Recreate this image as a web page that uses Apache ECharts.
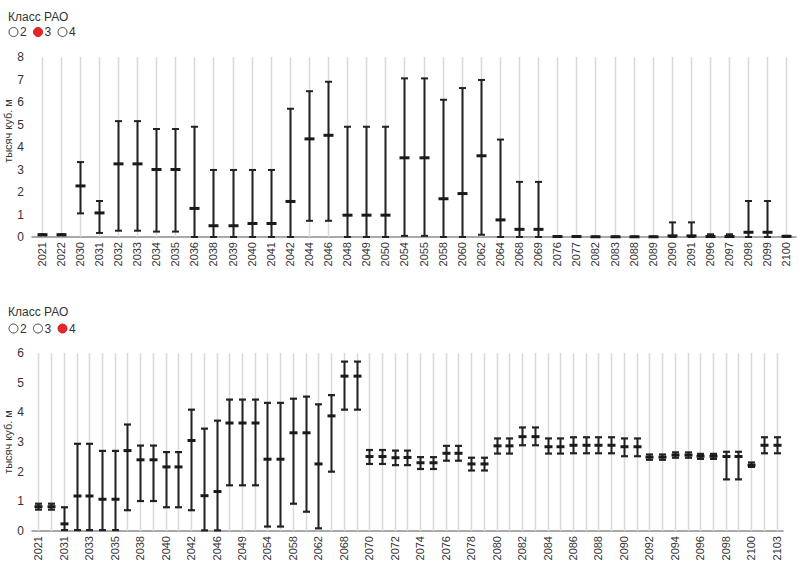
<!DOCTYPE html>
<html><head><meta charset="utf-8">
<script src="https://cdn.jsdelivr.net/npm/echarts@6/dist/echarts.min.js"></script>
<style>html,body{margin:0;padding:0;background:#fff}#c{width:800px;height:570px}</style>
</head><body><div id="c"></div>
<script>
// ---- Data: top panel (Класс РАО = 3) ----
const topYears = ['2021','2022','2030','2031','2032','2033','2034','2035','2036','2038','2039','2040','2041','2042','2044','2046','2048','2049','2050','2054','2055','2058','2060','2062','2064','2068','2069','2076','2077','2082','2083','2088','2089','2090','2091','2096','2097','2098','2099','2100'];
const topLow  = [0.08,0.08,1.05,0.18,0.28,0.28,0.24,0.24,0,0,0,0,0,0,0.72,0.72,0,0,0,0.05,0.05,0,0,0.1,0,0,0,0,0,0,0,0,0,0,0,0,0,0,0,0];
const topMid  = [0.1,0.1,2.27,1.07,3.25,3.25,3.0,3.0,1.27,0.5,0.5,0.6,0.6,1.58,4.36,4.52,0.97,0.97,0.97,3.52,3.52,1.7,1.93,3.61,0.76,0.34,0.34,0.02,0.02,0.01,0.01,0.01,0.01,0.05,0.05,0.02,0.02,0.21,0.21,0.03];
const topHigh = [0.12,0.12,3.33,1.6,5.15,5.15,4.8,4.8,4.9,2.98,2.98,2.98,2.98,5.7,6.48,6.9,4.9,4.9,4.9,7.05,7.05,6.1,6.62,6.98,4.33,2.45,2.45,0.04,0.04,0.02,0.02,0.02,0.02,0.65,0.65,0.12,0.12,1.6,1.6,0.05];

// ---- Data: bottom panel (Класс РАО = 4) ----
const botYears = ['2021','2022','2031','2032','2033','2034','2035','2036','2038','2039','2040','2041','2042','2044','2046','2048','2049','2050','2054','2055','2058','2060','2062','2064','2068','2069',
  '2070','2071','2072','2073','2074','2075','2076','2077','2078','2079','2080','2081','2082','2083','2084','2085','2086','2087','2088','2089','2090','2091','2092','2093','2094','2095','2096','2097','2098','2099','2100','2102','2103'];
const botLow  = [0.72,0.72,0.03,0.03,0.03,0.03,0.03,0.70,1.01,1.01,0.80,0.80,0.70,0.02,0.02,1.54,1.54,1.54,0.15,0.15,0.92,0.65,0.09,2.0,4.09,4.09,
  2.26,2.26,2.22,2.22,2.09,2.09,2.37,2.37,2.04,2.04,2.61,2.61,2.89,2.89,2.61,2.61,2.62,2.62,2.62,2.62,2.52,2.52,2.40,2.40,2.47,2.47,2.43,2.43,1.74,1.74,2.16,2.62,2.62];
const botMid  = [0.82,0.82,0.24,1.18,1.18,1.07,1.07,2.71,2.40,2.40,2.16,2.16,3.05,1.19,1.33,3.64,3.64,3.64,2.42,2.42,3.31,3.31,2.26,3.88,5.22,5.22,
  2.51,2.51,2.47,2.48,2.30,2.30,2.62,2.62,2.26,2.26,2.87,2.87,3.18,3.18,2.84,2.84,2.89,2.89,2.89,2.89,2.84,2.84,2.49,2.49,2.56,2.56,2.52,2.52,2.51,2.51,2.22,2.89,2.89];
const botHigh = [0.92,0.92,0.80,2.94,2.94,2.70,2.70,3.59,2.88,2.88,2.66,2.66,4.09,3.45,3.72,4.43,4.43,4.43,4.32,4.32,4.46,4.53,4.27,4.58,5.71,5.71,
  2.73,2.73,2.71,2.71,2.49,2.49,2.87,2.87,2.47,2.47,3.12,3.12,3.49,3.49,3.12,3.12,3.16,3.16,3.16,3.16,3.12,3.12,2.58,2.58,2.65,2.65,2.60,2.60,2.67,2.67,2.31,3.16,3.16];

const classOptions = ['2','3','4'];
const topSelected = '3';
const botSelected = '4';
const legendTitle = 'Класс РАО';
const yName = 'тысяч куб. м';

const FONT = '"Liberation Sans", Arial, sans-serif';
const TXT = '#333';

function rows(low, mid, high){ return low.map((v,i)=>[i, v, mid[i], high[i]]); }

function makeRender(capW, midW, midH, capLW){
  return function(params, api){
    const i = api.value(0);
    const pl = api.coord([i, api.value(1)]);
    const pm = api.coord([i, api.value(2)]);
    const ph = api.coord([i, api.value(3)]);
    const cs = params.coordSys;
    const x = Math.round(pl[0]) + 0.5;
    return {type:'group', children:[
      {type:'line', z2:0, shape:{x1:x,y1:cs.y,x2:x,y2:cs.y+cs.height}, style:{stroke:'#d9d9d9', lineWidth:1.5}},
      {type:'line', z2:2, shape:{x1:x,y1:ph[1],x2:x,y2:pl[1]}, style:{stroke:'#222', lineWidth:2}},
      {type:'line', z2:2, shape:{x1:x-capW/2,y1:ph[1],x2:x+capW/2,y2:ph[1]}, style:{stroke:'#222', lineWidth:capLW}},
      {type:'line', z2:2, shape:{x1:x-capW/2,y1:pl[1],x2:x+capW/2,y2:pl[1]}, style:{stroke:'#222', lineWidth:capLW}},
      {type:'rect', z2:3, shape:{x:x-midW/2,y:pm[1]-midH/2,width:midW,height:midH}, style:{fill:'#1a1a1a'}}
    ]};
  };
}

function legendGraphics(top, cy, selected){
  const els = [{type:'text', left:8, top:top, style:{text:legendTitle, font:'12px '+FONT, fill:TXT}}];
  classOptions.forEach((c, k)=>{
    const cx = 13.5 + k*24.5;
    const sel = c === selected;
    els.push({type:'circle', shape:{cx:cx, cy:cy, r:4.5}, style:{fill: sel ? '#e4262a' : '#fff', stroke: sel ? '#d01f23' : '#444', lineWidth:1}});
    els.push({type:'text', x:cx+6.5, y:cy, style:{text:c, font:'12px '+FONT, fill:TXT, verticalAlign:'middle'}});
  });
  return els;
}

function yNameGraphic(cy){
  return {type:'text', x:8, y:cy, rotation:Math.PI/2,
    style:{text:yName, font:'11px '+FONT, fill:TXT, align:'center', verticalAlign:'middle'}};
}

const xAxisCommon = {
  type:'category',
  axisLine:{lineStyle:{color:'#8c8c8c', width:1.5}},
  axisTick:{show:false},
  splitLine:{show:false},
  axisLabel:{rotate:90, color:TXT, fontFamily:FONT, fontSize:11, margin:5}
};
const yAxisCommon = {
  type:'value', min:0, interval:1,
  axisLine:{show:false}, axisTick:{show:false}, splitLine:{show:false},
  axisLabel:{color:TXT, fontFamily:FONT, fontSize:12, margin:8}
};

const chart = echarts.init(document.getElementById('c'), null, {renderer:'svg'});
chart.setOption({
  animation:false,
  backgroundColor:'#fff',
  graphic: legendGraphics(11, 32, topSelected)
    .concat(legendGraphics(306, 328.5, botSelected))
    .concat([yNameGraphic(131), yNameGraphic(442)]),
  grid:[
    {left:32, right:4, top:57, height:180, containLabel:false, outerBoundsMode:'none'},
    {left:32, right:17, top:353, height:178, containLabel:false, outerBoundsMode:'none'}
  ],
  xAxis:[
    Object.assign({}, xAxisCommon, {gridIndex:0, data:topYears, axisLabel:Object.assign({}, xAxisCommon.axisLabel, {interval:0})}),
    Object.assign({}, xAxisCommon, {gridIndex:1, data:botYears, axisLabel:Object.assign({}, xAxisCommon.axisLabel, {interval:1})})
  ],
  yAxis:[
    Object.assign({}, yAxisCommon, {gridIndex:0, max:8}),
    Object.assign({}, yAxisCommon, {gridIndex:1, max:6})
  ],
  series:[
    {type:'custom', xAxisIndex:0, yAxisIndex:0, renderItem:makeRender(7, 10, 3, 2), encode:{x:0, y:[1,2,3]}, data:rows(topLow, topMid, topHigh)},
    {type:'custom', xAxisIndex:1, yAxisIndex:1, renderItem:makeRender(7, 8, 3, 2.2), encode:{x:0, y:[1,2,3]}, data:rows(botLow, botMid, botHigh)}
  ]
});
</script>
</body></html>
